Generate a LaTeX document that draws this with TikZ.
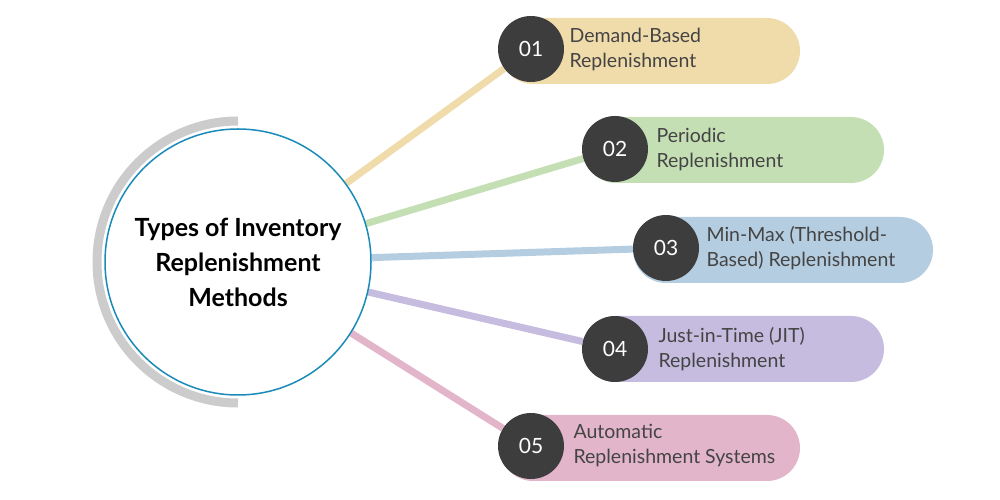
\documentclass[tikz,border=0pt]{standalone}
\usepackage{fontspec}
\setmainfont{Lato}
\usetikzlibrary{backgrounds}

\definecolor{hubblue}{HTML}{1A8AB8}
\definecolor{darkdot}{HTML}{3D3D3D}
\definecolor{textgray}{HTML}{444444}
\definecolor{cA}{HTML}{F0DCAA}
\definecolor{cB}{HTML}{C5DFB5}
\definecolor{cC}{HTML}{B5CDE0}
\definecolor{cD}{HTML}{C5BCDF}
\definecolor{cE}{HTML}{E2B5CA}

\tikzset{
    dot/.style={circle, fill=darkdot, minimum size=66pt, inner sep=0pt,
        text=white, font=\fontsize{21}{21}\selectfont},
    pill/.style={rounded corners=33pt, fill=#1},
    lbl/.style={anchor=west, align=left, text=textgray,
        font=\fontsize{19.5}{25}\selectfont},
    link/.style={line width=7pt, draw=#1}
}

\begin{document}
\begin{tikzpicture}[x=1pt, y=1pt]

    \useasboundingbox (0,0) rectangle (1000,500);

    % grey arc behind the hub
    \draw[line width=9pt, draw=black!20] (238,379) arc (90:270:141);

    \node[circle, draw=hubblue, line width=1.5pt, fill=white,
        minimum size=266pt, inner sep=0pt, align=center,
        font=\fontsize{25}{35}\selectfont\bfseries] (hub) at (238,238)
        {Types of Inventory\\Replenishment\\Methods};

    % pills
    \fill[pill=cA] (500,416) rectangle (800,482);
    \fill[pill=cB] (583,317) rectangle (884,383);
    \fill[pill=cC] (633,217) rectangle (933,283);
    \fill[pill=cD] (583,118) rectangle (884,184);
    \fill[pill=cE] (500,19) rectangle (800,85);

    \node[dot] (n1) at (531,451) {01};
    \node[dot] (n2) at (615,351) {02};
    \node[dot] (n3) at (666,252) {03};
    \node[dot] (n4) at (615,151) {04};
    \node[dot] (n5) at (531,54) {05};

    \node[lbl] (t1) at (566,451) {Demand-Based\\Replenishment};
    \node[lbl] (t2) at (653,351) {Periodic\\Replenishment};
    \node[lbl] (t3) at (703,252) {Min-Max (Threshold-\\Based) Replenishment};
    \node[lbl] (t4) at (655,151) {Just-in-Time (JIT)\\Replenishment};
    \node[lbl] (t5) at (570,54) {Automatic\\Replenishment Systems};

    \begin{scope}[on background layer]
        \draw[link=cA] (hub) -- (n1);
        \draw[link=cB] (hub) -- (n2);
        \draw[link=cC] (hub) -- (n3);
        \draw[link=cD] (hub) -- (n4);
        \draw[link=cE] (hub) -- (n5);
    \end{scope}

\end{tikzpicture}
\end{document}
